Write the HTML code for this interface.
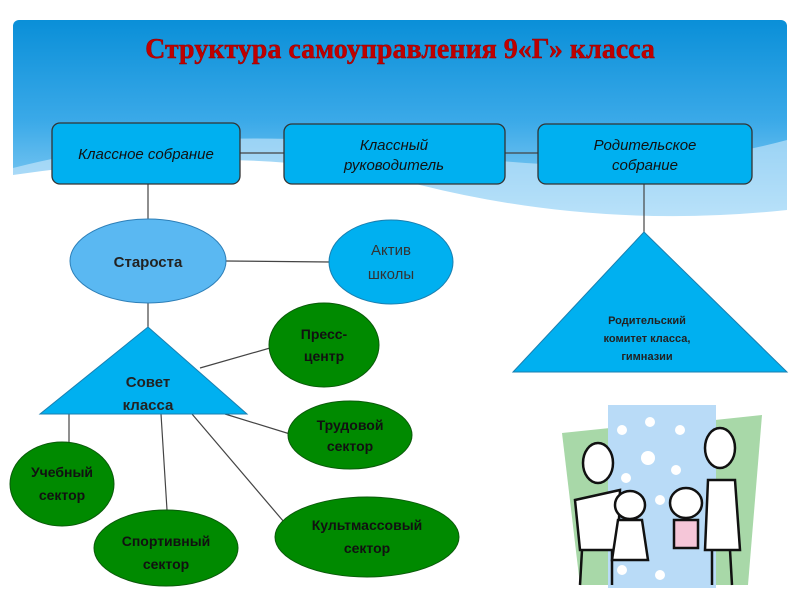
<!DOCTYPE html>
<html><head><meta charset="utf-8"><style>
html,body{margin:0;padding:0;background:#fff;}
svg{display:block;}
text{font-family:"Liberation Sans","DejaVu Sans",sans-serif;}
</style></head><body>
<svg width="800" height="600" viewBox="0 0 800 600" xmlns="http://www.w3.org/2000/svg">
<defs>
<linearGradient id="bg" x1="0" y1="0" x2="0" y2="1">
<stop offset="0" stop-color="#0a8fd8"/>
<stop offset="0.5" stop-color="#3aa9e8"/>
<stop offset="1" stop-color="#9bd6f6"/>
</linearGradient>
</defs>
<rect x="13" y="20" width="774" height="200" rx="6" fill="url(#bg)"/>
<path d="M13 168 Q200 120 420 150 Q620 185 787 140 L787 225 L13 225 Z" fill="#cfeafb" opacity="0.6"/>
<path d="M13 175 Q250 140 420 185 Q600 230 787 210 L787 240 L13 240 Z" fill="#fff"/>
<text x="400" y="58" text-anchor="middle" font-weight="bold" font-size="28" fill="#c00000" stroke="#8a0000" stroke-width="0.4" style="font-family:'Liberation Serif',serif">Структура самоуправления 9«Г» класса</text>

<g stroke="#444" stroke-width="1.2" fill="none">
<line x1="240" y1="153" x2="284" y2="153"/>
<line x1="505" y1="153" x2="538" y2="153"/>
<line x1="148" y1="184" x2="148" y2="220"/>
<line x1="644" y1="184" x2="644" y2="232"/>
<line x1="226" y1="261" x2="330" y2="262"/>
<line x1="148" y1="303" x2="148" y2="327"/>
<line x1="200" y1="368" x2="270" y2="348"/>
<line x1="69" y1="414" x2="69" y2="442"/>
<line x1="161" y1="414" x2="167" y2="510"/>
<line x1="192" y1="414" x2="284" y2="522"/>
<line x1="225" y1="414" x2="290" y2="434"/>
</g>

<g fill="#00b0f0" stroke="#333" stroke-width="1.3">
<rect x="52" y="123" width="188" height="61" rx="8"/>
<rect x="284" y="124" width="221" height="60" rx="8"/>
<rect x="538" y="124" width="214" height="60" rx="8"/>
</g>
<g font-style="italic" font-size="15" fill="#111" text-anchor="middle">
<text x="146" y="159">Классное собрание</text>
<text x="394" y="150">Классный</text>
<text x="394" y="170">руководитель</text>
<text x="645" y="150">Родительское</text>
<text x="645" y="170">собрание</text>
</g>

<ellipse cx="148" cy="261" rx="78" ry="42" fill="#5ab8f2" stroke="#2d7fb8" stroke-width="1"/>
<text x="148" y="267" text-anchor="middle" font-size="15" font-weight="bold" fill="#222">Староста</text>
<ellipse cx="391" cy="262" rx="62" ry="42" fill="#00b0f0" stroke="#1a7fb0" stroke-width="1"/>
<text x="391" y="255" text-anchor="middle" font-size="15" fill="#333">Актив</text>
<text x="391" y="279" text-anchor="middle" font-size="15" fill="#333">школы</text>

<polygon points="148,327 40,414 247,414" fill="#00b0f0" stroke="#1a7fb0"/>
<text x="148" y="387" text-anchor="middle" font-size="15" font-weight="bold" fill="#222">Совет</text>
<text x="148" y="410" text-anchor="middle" font-size="15" font-weight="bold" fill="#222">класса</text>

<polygon points="644,232 513,372 787,372" fill="#00b0f0" stroke="#1a7fb0"/>
<g text-anchor="middle" font-size="11" font-weight="bold" fill="#222">
<text x="647" y="324">Родительский</text>
<text x="647" y="342">комитет  класса,</text>
<text x="647" y="360">гимназии</text>
</g>

<g fill="#008a00" stroke="#0a5a0a" stroke-width="1">
<ellipse cx="324" cy="345" rx="55" ry="42"/>
<ellipse cx="350" cy="435" rx="62" ry="34"/>
<ellipse cx="62" cy="484" rx="52" ry="42"/>
<ellipse cx="166" cy="548" rx="72" ry="38"/>
<ellipse cx="367" cy="537" rx="92" ry="40"/>
</g>
<g text-anchor="middle" font-size="14" font-weight="bold" fill="#111">
<text x="324" y="339">Пресс-</text><text x="324" y="361">центр</text>
<text x="350" y="430">Трудовой</text><text x="350" y="451">сектор</text>
<text x="62" y="477">Учебный</text><text x="62" y="500">сектор</text>
<text x="166" y="546">Спортивный</text><text x="166" y="569">сектор</text>
<text x="367" y="530">Культмассовый</text><text x="367" y="553">сектор</text>
</g>

<!-- family picture -->
<polygon points="562,433 610,428 610,585 580,585" fill="#a8d8a8"/>
<polygon points="715,420 762,415 748,585 715,585" fill="#a8d8a8"/>
<rect x="608" y="405" width="108" height="183" fill="#b9dbf7"/>
<g fill="#fff">
<circle cx="622" cy="430" r="5"/><circle cx="650" cy="422" r="5"/><circle cx="680" cy="430" r="5"/>
<circle cx="648" cy="458" r="7"/><circle cx="676" cy="470" r="5"/><circle cx="626" cy="478" r="5"/>
<circle cx="660" cy="500" r="5"/><circle cx="622" cy="570" r="5"/><circle cx="660" cy="575" r="5"/>
</g>
<g stroke="#111" stroke-width="2.5" fill="#fff">
<ellipse cx="598" cy="463" rx="15" ry="20"/>
<path d="M575 500 L620 490 L618 550 L580 550 Z"/>
<path d="M582 550 L580 585 M612 550 L612 585"/>
<ellipse cx="630" cy="505" rx="15" ry="14"/>
<path d="M618 520 L642 520 L648 560 L612 560 Z"/>
<ellipse cx="686" cy="503" rx="16" ry="15"/>
<rect x="674" y="520" width="24" height="28" fill="#f5c6d8"/>
<ellipse cx="720" cy="448" rx="15" ry="20"/>
<path d="M708 480 L735 480 L740 550 L705 550 Z"/>
<path d="M712 550 L712 585 M730 550 L732 585"/>
</g>
</svg>
</body></html>
